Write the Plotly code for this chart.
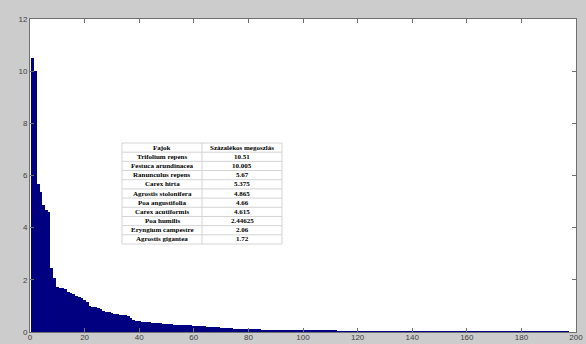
import plotly.graph_objects as go

# Sorted percentage values (index 1..N)
values = [
    10.51, 10.005, 5.67, 5.375, 4.865, 4.66, 4.615, 2.44625, 2.06, 1.72,
    1.70, 1.68, 1.65, 1.52, 1.50, 1.44, 1.39, 1.36, 1.32, 1.23,
    1.16, 1.01, 0.97, 0.95, 0.93, 0.87, 0.82, 0.78, 0.75, 0.72,
    0.70, 0.68, 0.67, 0.65, 0.64, 0.62, 0.52, 0.47, 0.43, 0.41,
    0.40, 0.38, 0.37, 0.37, 0.36, 0.35, 0.33, 0.33, 0.32, 0.31,
    0.30, 0.29, 0.28, 0.27, 0.27, 0.26, 0.26, 0.25, 0.25, 0.24,
    0.24, 0.23, 0.23, 0.22, 0.21, 0.20, 0.20, 0.19, 0.18, 0.17,
    0.16, 0.15, 0.14, 0.14, 0.13, 0.13, 0.12, 0.12, 0.12, 0.11,
    0.11, 0.11, 0.10, 0.10, 0.09, 0.09, 0.09, 0.08, 0.08, 0.08,
    0.08, 0.08, 0.08, 0.08, 0.075, 0.075, 0.075, 0.075, 0.07, 0.07,
    0.07, 0.07, 0.07, 0.055, 0.055, 0.05, 0.05, 0.05, 0.05, 0.05,
    0.045, 0.045, 0.035, 0.035, 0.035, 0.035, 0.035, 0.034, 0.034, 0.034,
    0.034, 0.033, 0.033, 0.033, 0.033, 0.032, 0.032, 0.032, 0.032, 0.031,
    0.031, 0.031, 0.031, 0.030, 0.030, 0.030, 0.030, 0.030, 0.030, 0.030,
    0.025, 0.025, 0.025, 0.025, 0.024, 0.024, 0.024, 0.024, 0.023, 0.023,
    0.023, 0.023, 0.022, 0.022, 0.022, 0.022, 0.021, 0.021, 0.021, 0.021,
    0.020, 0.020, 0.020, 0.020, 0.020, 0.020, 0.019, 0.019, 0.019, 0.019,
    0.019, 0.018, 0.018, 0.018, 0.018, 0.018, 0.017, 0.017, 0.017, 0.017,
    0.017, 0.016, 0.016, 0.016, 0.016, 0.016, 0.015, 0.015, 0.015, 0.015,
    0.015, 0.015, 0.015, 0.015, 0.015, 0.015, 0.015,
]
positions = list(range(1, len(values) + 1))

species = ["Trifolium repens", "Festuca arundinacea", "Ranunculus repens", "Carex hirta",
           "Agrostis stolonifera", "Poa angustifolia", "Carex acutiformis", "Poa humilis",
           "Eryngium campestre", "Agrostis gigantea"]
shares = ["10.51", "10.005", "5.67", "5.375", "4.865", "4.66", "4.615", "2.44625", "2.06", "1.72"]
headers = ["Fajok", "Százalékos megoszlás"]

x_ticks = list(range(0, 201, 20))
y_ticks = list(range(0, 13, 2))

fig = go.Figure()
fig.add_trace(go.Bar(
    x=positions, y=values, width=1.0,
    marker=dict(color="#000080", line=dict(width=0)),
    showlegend=False, hoverinfo="skip",
))

L, R, T, B = 30, 10, 19, 12
W, H = 586, 344
pw, ph = W - L - R, H - T - B


def px_x(p):
    return (p - L) / pw


def px_y(p):
    return (H - B - p) / ph


# table geometry (pixels)
tx0, tx1, ty0, ty1 = 122, 282, 143, 244
tmid = 202
rows = [headers] + [[s, v] for s, v in zip(species, shares)]
nrows = len(rows)
rh = (ty1 - ty0) / nrows

shapes = [dict(type="rect", xref="paper", yref="paper",
               x0=px_x(tx0), x1=px_x(tx1), y0=px_y(ty1), y1=px_y(ty0),
               fillcolor="white", line=dict(color="#d4d4d4", width=1), layer="above")]
for i in range(1, nrows):
    yy = px_y(ty0 + i * rh)
    shapes.append(dict(type="line", xref="paper", yref="paper",
                       x0=px_x(tx0), x1=px_x(tx1), y0=yy, y1=yy,
                       line=dict(color="#d4d4d4", width=1), layer="above"))
shapes.append(dict(type="line", xref="paper", yref="paper",
                   x0=px_x(tmid), x1=px_x(tmid), y0=px_y(ty1), y1=px_y(ty0),
                   line=dict(color="#d4d4d4", width=1), layer="above"))

annotations = []
for i, (a, b) in enumerate(rows):
    yc = px_y(ty0 + (i + 0.5) * rh)
    for txt, xc in ((a, (tx0 + tmid) / 2), (b, (tmid + tx1) / 2)):
        annotations.append(dict(
            x=px_x(xc), y=yc, xref="paper", yref="paper", text="<b>%s</b>" % txt,
            showarrow=False, xanchor="center", yanchor="middle",
            font=dict(family="Liberation Serif", size=7, color="black")))

axis_common = dict(
    showgrid=False, zeroline=False, showline=True, linecolor="#707070", linewidth=1,
    mirror="ticks", ticks="inside", ticklen=4, tickcolor="#707070", automargin=False,
    tickfont=dict(family="Liberation Sans", size=8, color="#404040"),
)
fig.update_xaxes(range=[0, 200], tickvals=x_ticks, ticklabelstandoff=-3, **axis_common)
fig.update_yaxes(range=[0, 12], tickvals=y_ticks, **axis_common)

fig.update_layout(
    width=W, height=H, margin=dict(l=L, r=R, t=T, b=B),
    paper_bgcolor="#cccccc", plot_bgcolor="white",
    bargap=0, shapes=shapes, annotations=annotations,
)
fig.write_html("out.html", config={"displayModeBar": False},
               post_script="document.body.style.margin='0';document.body.style.padding='0';"
                           "document.body.style.overflow='hidden';")
